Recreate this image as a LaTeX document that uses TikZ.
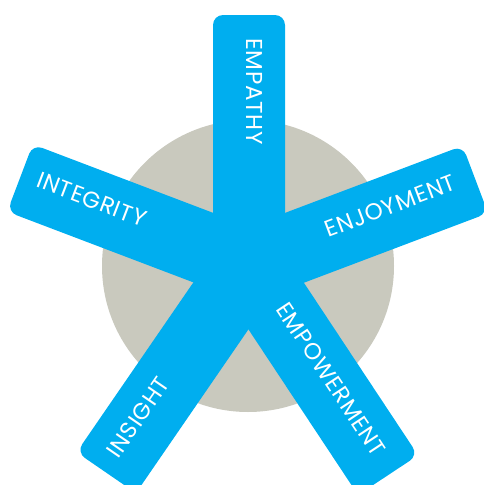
\documentclass[tikz,border=0pt]{standalone}
\usepackage{fontspec}
\setmainfont{Poppins}
\usetikzlibrary{calc}
\definecolor{barblue}{RGB}{0,174,239}
\definecolor{discgray}{RGB}{201,201,190}

\begin{document}
\begin{tikzpicture}[%
    x=1pt, y=-1pt,
    bar/.style={fill=barblue},
    word/.style={text=white, inner sep=0pt, font=\fontsize{23}{23}\selectfont\addfontfeatures{LetterSpace=3}}
  ]
    \useasboundingbox (0,0) rectangle (483,485);
    \coordinate (c) at (249,265);
    \fill[discgray] (248,266) circle (146);

    \foreach \ang/\len in {90/250, 159.2/245, 20.7/242, 235.5/252, -56.5/252}
      \fill[bar, shift={(c)}, rotate=\ang]
        (0,-36) [rounded corners=10] -- (\len,-36) -- (\len,36) [sharp corners] -- (0,36) -- cycle;

    \node[word, rotate=-90,   anchor=mid west] (empathy)     at ($(c)+(90:227pt)$)    {EMPATHY};
    \node[word, rotate=-20.8, anchor=mid west] (integrity)   at ($(c)+(159.2:228pt)$) {INTEGRITY};
    \node[word, rotate=20.7,  anchor=mid east] (enjoyment)   at ($(c)+(20.7:222pt)$)  {ENJOYMENT};
    \node[word, rotate=55.5,  anchor=mid west] (insight)     at ($(c)+(235.5:234pt)$) {INSIGHT};
    \node[word, rotate=-56.5, anchor=mid east] (empowerment) at ($(c)+(-56.5:230pt)$) {EMPOWERMENT};
  \end{tikzpicture}
\end{document}
